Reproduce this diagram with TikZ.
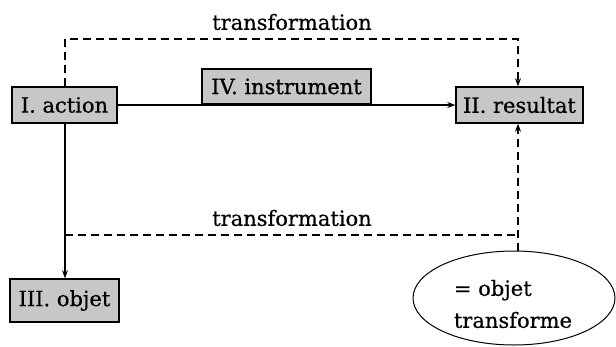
\documentclass[tikz,border=0pt]{standalone}
\usepackage{fontspec}
\setmainfont[FakeBold=0.6]{DejaVu Serif}
\usetikzlibrary{arrows.meta,shapes.geometric}

\tikzset{
  txt/.style={font=\fontsize{21}{25}\selectfont, inner sep=0pt},
  greybox/.style={txt, draw=black, line width=1.5pt, fill=black!22, minimum width=#1, minimum height=36pt},
  tip/.style={-{Stealth[length=8pt,width=6pt]}},
  conn/.style={line width=1.2pt, tip},
  dashline/.style={line width=1.2pt, dash pattern=on 8pt off 5pt},
}

\begin{document}
\begin{tikzpicture}[x=1pt, y=-1pt]
  \useasboundingbox (0,0) rectangle (616,346);

  % boxes
  \node[greybox=105pt] (act) at (64.5,105) {I. action};
  \node[greybox=169pt, minimum height=35pt] (ins) at (286.5,86.5) {IV. instrument};
  \node[greybox=127pt] (res) at (519.5,105) {II. resultat};
  \node[greybox=109pt, minimum height=43pt] (obj) at (64.5,300.5) {III. objet};

  % transformed object
  \node[ellipse, draw=black, line width=1pt, minimum width=202pt, minimum height=94pt, inner sep=0pt] (ell) at (514,298) {};
  \node[txt, align=left, font=\fontsize{21}{32}\selectfont] (elltxt) at (513,304) {= objet\\transforme};

  % labels
  \node[txt] (ttop) at (292,22) {transformation};
  \node[txt] (tbot) at (292,218) {transformation};

  % bend points of the dashed routes
  \coordinate (tl) at (65,39);
  \coordinate (tr) at (518,39);
  \coordinate (bl) at (65,235);
  \coordinate (br) at (518,235);

  % solid connectors
  \draw[conn] (act.east) -- (res.west);
  \draw[conn] (act.south -| bl) -- (obj.north -| bl);

  % dashed connectors
  \draw[dashline, tip] (act.north -| tl) -- (tl) -- (tr) -- (res.north -| tr);
  \draw[dashline] (bl) -- (br);
  \draw[dashline, tip] (ell.north -| br) -- (res.south -| br);
\end{tikzpicture}
\end{document}
